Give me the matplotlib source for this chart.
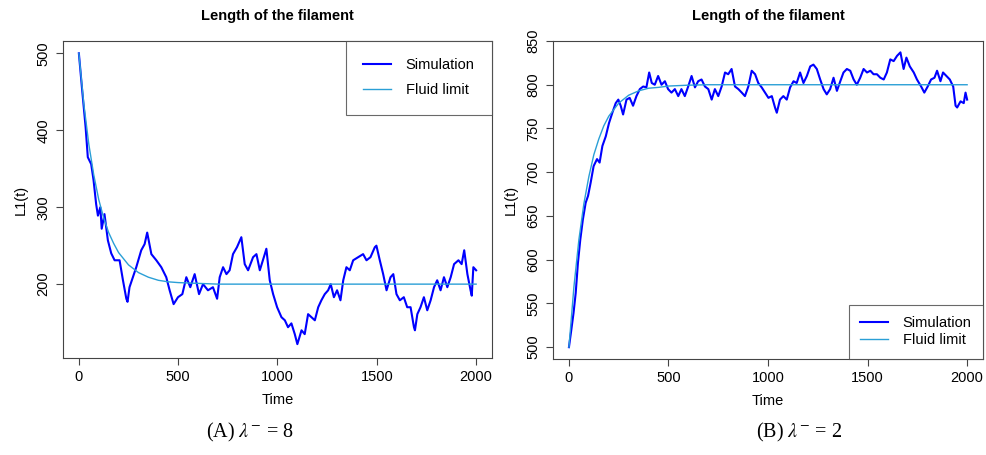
import matplotlib.pyplot as plt

plt.rcParams['font.family'] = ['Liberation Sans', 'DejaVu Sans']
plt.rcParams['mathtext.fontset'] = 'stix'

# ---- panel A: lambda- = 8
t_sim_a = [0, 17, 34, 45, 62, 74, 87, 96, 108, 115, 129, 146, 163, 180, 205, 222, 239, 245,
           255, 272, 289, 314, 331, 344, 365, 390, 415, 440, 457, 477, 499, 521, 541, 561,
           583, 605, 625, 650, 675, 696, 709, 726, 743, 759, 776, 796, 818, 835, 852, 877,
           894, 911, 936, 944, 961, 978, 998, 1020, 1037, 1053, 1070, 1087, 1100, 1121,
           1137, 1154, 1171, 1188, 1205, 1221, 1238, 1255, 1268, 1284, 1300, 1317, 1331,
           1347, 1364, 1381, 1406, 1431, 1448, 1468, 1490, 1498, 1515, 1532, 1549, 1569,
           1583, 1599, 1616, 1636, 1653, 1670, 1687, 1692, 1704, 1720, 1737, 1754, 1771,
           1788, 1804, 1821, 1838, 1855, 1872, 1889, 1911, 1927, 1940, 1956, 1972, 1978,
           1986, 2000]
l_sim_a = [500, 451, 404, 365, 356, 335, 304, 289, 300, 272, 291, 257, 240, 231, 231, 205, 181, 177,
           196, 209, 222, 244, 252, 267, 239, 231, 222, 209, 192, 174, 183, 187, 209, 196,
           213, 187, 200, 192, 196, 181, 209, 222, 213, 218, 239, 248, 261, 226, 218, 235,
           239, 218, 239, 246, 205, 187, 170, 157, 153, 144, 149, 135, 122, 140,
           135, 161, 157, 153, 170, 179, 187, 192, 200, 183, 192, 179, 205,
           222, 218, 231, 235, 239, 231, 235, 248, 250, 231, 213, 192, 209,
           213, 187, 179, 183, 170, 170, 144, 140, 161, 170, 183, 166, 179,
           196, 205, 192, 209, 196, 209, 226, 231, 226, 244, 213, 192, 185,
           222, 218]
t_fl_a = [0, 25, 50, 75, 100, 125, 150, 175, 200, 250, 300, 350, 400, 450, 500, 600, 700, 2000]
l_fl_a = [500, 434, 382, 342, 310, 286, 267, 253, 241, 225, 215, 209, 205, 203, 202, 201, 200, 200]

# ---- panel B: lambda- = 2
t_sim_b = [0, 12, 23, 34, 45, 57, 70, 84, 96, 109, 124, 141, 154, 168, 185, 201, 218, 235, 248,
           260, 272, 289, 305, 322, 339, 356, 373, 389, 403, 416, 431, 448, 465, 482, 498,
           515, 532, 549, 565, 582, 599, 616, 633, 649, 666, 683, 700, 717, 733, 750, 767,
           784, 800, 817, 834, 851, 868, 884, 901, 918, 935, 951, 968, 985, 1002, 1019,
           1035, 1044, 1060, 1077, 1094, 1111, 1128, 1144, 1161, 1178, 1195, 1212, 1228,
           1245, 1262, 1279, 1295, 1312, 1329, 1346, 1363, 1379, 1396, 1413, 1430, 1446,
           1463, 1480, 1497, 1514, 1530, 1547, 1564, 1581, 1597, 1614, 1631, 1648, 1665,
           1681, 1695, 1712, 1732, 1748, 1769, 1785, 1802, 1819, 1836, 1849, 1866, 1879,
           1896, 1913, 1930, 1942, 1950, 1967, 1983, 1992, 2000]
l_sim_b = [500, 520, 539, 562, 596, 623, 646, 665, 673, 688, 707, 715, 711, 730, 741, 756, 768, 779, 783,
           776, 766, 783, 785, 776, 787, 795, 798, 797, 814, 802, 800, 810, 800, 804, 795,
           791, 795, 787, 795, 787, 798, 810, 797, 804, 806, 798, 795, 783, 795, 787, 798,
           814, 812, 818, 798, 795, 791, 787, 798, 816, 812, 802, 797, 791, 785, 787,
           774, 768, 783, 787, 783, 797, 804, 802, 814, 802, 810, 821, 823,
           818, 806, 795, 789, 795, 808, 793, 804, 814, 818, 816, 806, 800,
           808, 818, 814, 816, 812, 812, 808, 806, 814, 829, 827, 833, 837,
           818, 831, 821, 814, 806, 798, 791, 798, 806, 808, 816, 804, 814,
           810, 806, 798, 776, 774, 781, 779, 791, 783]
t_fl_b = [0, 25, 50, 75, 100, 125, 150, 175, 200, 250, 300, 350, 400, 450, 500, 600, 700, 2000]
l_fl_b = [500, 569, 623, 664, 695, 720, 738, 753, 764, 779, 788, 793, 796, 797, 798.5, 799.5, 800, 800]

sim_color = '#0000ff'
fl_color = '#2a9fd6'

fig = plt.figure(figsize=(9.87, 4.55), dpi=100)
ax1 = fig.add_axes([0.0638, 0.2132, 0.4347, 0.6967])
ax2 = fig.add_axes([0.5603, 0.2110, 0.4357, 0.6989])


def style(ax, yticks, ylim):
    ax.set_xlim(-80, 2080)
    ax.set_ylim(*ylim)
    ax.set_xticks([0, 500, 1000, 1500, 2000])
    ax.set_yticks(yticks)
    ax.tick_params(direction='out', length=5, width=0.8, color='#444444',
                   labelsize=10.5, pad=4)
    for lab in ax.get_yticklabels():
        lab.set_rotation(90)
        lab.set_va('center')
    for s in ax.spines.values():
        s.set_color('#444444')
        s.set_linewidth(0.8)
    ax.set_title('Length of the filament', fontsize=10.5, fontweight='bold', pad=15)
    ax.set_xlabel('Time', fontsize=10.5, labelpad=6)
    ax.set_ylabel('L1(t)', fontsize=10.5, labelpad=6)


ax1.plot(t_sim_a, l_sim_a, color=sim_color, lw=1.5, label='Simulation')
ax1.plot(t_fl_a, l_fl_a, color=fl_color, lw=1.0, label='Fluid limit')
style(ax1, [200, 300, 400, 500], (104, 516))
leg1 = ax1.legend(loc='upper right', borderaxespad=0, fancybox=False, fontsize=10.5,
                  borderpad=1.2, labelspacing=0.75, handlelength=1.9, handletextpad=1.0)
leg1.get_frame().set_edgecolor('#444444')
leg1.get_frame().set_linewidth(0.8)

ax2.plot(t_sim_b, l_sim_b, color=sim_color, lw=1.5, label='Simulation')
ax2.plot(t_fl_b, l_fl_b, color=fl_color, lw=1.0, label='Fluid limit')
style(ax2, [500, 550, 600, 650, 700, 750, 800, 850], (486.5, 850))
leg2 = ax2.legend(loc='lower right', borderaxespad=0, fancybox=False, fontsize=10.5,
                  borderpad=0.8, labelspacing=0.2, handlelength=1.9, handletextpad=1.0)
leg2.get_frame().set_edgecolor('#444444')
leg2.get_frame().set_linewidth(0.8)

cap_font = ['Liberation Serif', 'DejaVu Serif']
fig.text(0.253, 0.05, r'(A) $\lambda^{-}$ = 8', ha='center', va='center', fontsize=14.5, family=cap_font)
fig.text(0.810, 0.05, r'(B) $\lambda^{-}$ = 2', ha='center', va='center', fontsize=14.5, family=cap_font)

fig.savefig('out.png', dpi=100)
